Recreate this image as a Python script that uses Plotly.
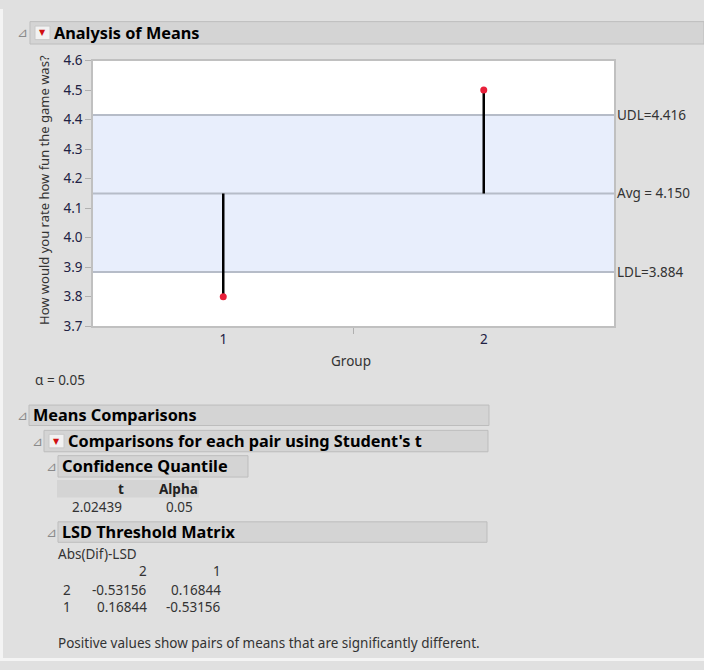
import plotly.graph_objects as go

# ---- data ----
groups = [1, 2]
group_labels = ["1", "2"]
group_means = [3.8, 4.5]
avg = 4.150
udl = 4.416
ldl = 3.884
y_ticks = [3.7, 3.8, 3.9, 4.0, 4.1, 4.2, 4.3, 4.4, 4.5, 4.6]
alpha = 0.05
t_quantile = "2.02439"
lsd_cols = ["2", "1"]
lsd_rows = ["2", "1"]
lsd_values = [["-0.53156", "0.16844"], ["0.16844", "-0.53156"]]

W, H = 704, 670
FONT = "Noto Sans"


def px(x):
    return x / W


def py(y):
    return 1 - y / H


fig = go.Figure()

# stems from average to group means
sx, sy = [], []
for g, m in zip(groups, group_means):
    sx += [g, g, None]
    sy += [avg, m, None]
fig.add_trace(go.Scatter(x=sx, y=sy, mode="lines",
                         line=dict(color="black", width=2.5),
                         hoverinfo="skip", showlegend=False))
fig.add_trace(go.Scatter(x=groups, y=group_means, mode="markers",
                         marker=dict(color="#e8203a", size=7),
                         showlegend=False))

shapes = []
# page edges
shapes.append(dict(type="rect", xref="paper", yref="paper", x0=0, x1=px(3), y0=0, y1=1,
                   fillcolor="#f4f4f4", line=dict(width=0), layer="below"))
shapes.append(dict(type="rect", xref="paper", yref="paper", x0=0, x1=1, y0=0, y1=py(667),
                   fillcolor="#f4f4f4", line=dict(width=0), layer="below"))
# decision band
shapes.append(dict(type="rect", xref="x domain", yref="y", x0=0, x1=1, y0=ldl, y1=udl,
                   fillcolor="#e8eefc", line=dict(width=0), layer="below"))
for v in [ldl, avg, udl]:
    shapes.append(dict(type="line", xref="x domain", yref="y", x0=0, x1=1, y0=v, y1=v,
                       line=dict(color="#b6bcc8", width=2), layer="below"))

SMALL = 13.5
annotations = []
for lab, v in [("UDL=%.3f" % udl, udl), ("Avg = %.3f" % avg, avg), ("LDL=%.3f" % ldl, ldl)]:
    annotations.append(dict(xref="paper", yref="y", x=px(615), y=v, text=lab,
                            xanchor="left", yanchor="middle", showarrow=False,
                            font=dict(family=FONT, size=SMALL, color="#333333")))


def header(x0, x1, y0, y1, text, tri_x, icon=None, text_x=None, size=16.3):
    shapes.append(dict(type="rect", xref="paper", yref="paper",
                       x0=px(x0), x1=px(x1), y0=py(y1), y1=py(y0),
                       fillcolor="#d4d4d4", line=dict(color="#bdbdbd", width=1)))
    yc = (y0 + y1) / 2
    annotations.append(dict(xref="paper", yref="paper", x=px(tri_x), y=py(yc), text="⊿",
                            xanchor="center", yanchor="middle", showarrow=False,
                            font=dict(family="DejaVu Sans", size=13, color="#8a8a8a")))
    if icon is not None:
        shapes.append(dict(type="rect", xref="paper", yref="paper",
                           x0=px(icon), x1=px(icon + 15), y0=py(yc + 7), y1=py(yc - 7),
                           fillcolor="#f2f2f2", line=dict(color="#c8c8c8", width=1)))
        annotations.append(dict(xref="paper", yref="paper", x=px(icon + 7.5), y=py(yc), text="▼",
                                xanchor="center", yanchor="middle", showarrow=False,
                                font=dict(family="DejaVu Sans", size=8, color="#d01010")))
    annotations.append(dict(xref="paper", yref="paper", x=px(text_x), y=py(yc), text="<b>%s</b>" % text,
                            xanchor="left", yanchor="middle", showarrow=False,
                            font=dict(family=FONT, size=size, color="#000000")))


header(30, 704, 13, 36, "Analysis of Means", 22, icon=35, text_x=52)
header(29, 489, 407, 428, "Means Comparisons", 22, text_x=31)
header(44, 488, 433, 455, "Comparisons for each pair using Student's t", 37, icon=49, text_x=66)
header(58, 248, 459, 481, "Confidence Quantile", 51, text_x=60)
header(58, 487, 527, 548, "LSD Threshold Matrix", 51, text_x=60)

# alpha note
annotations.append(dict(xref="paper", yref="paper", x=px(33), y=py(381), text="α = %.2f" % alpha,
                        xanchor="left", yanchor="middle", showarrow=False,
                        font=dict(family=FONT, size=SMALL, color="#333333")))

# confidence quantile table
shapes.append(dict(type="rect", xref="paper", yref="paper", x0=px(57), x1=px(199),
                   y0=py(502), y1=py(484), fillcolor="#d4d4d4", line=dict(width=0)))
small = dict(family=FONT, size=SMALL, color="#333333")
annotations += [
    dict(xref="paper", yref="paper", x=px(121), y=py(493), text="<b>t</b>", xanchor="center",
         yanchor="middle", showarrow=False, font=dict(family=FONT, size=SMALL, color="#222222")),
    dict(xref="paper", yref="paper", x=px(178), y=py(493), text="<b>Alpha</b>", xanchor="center",
         yanchor="middle", showarrow=False, font=dict(family=FONT, size=SMALL, color="#222222")),
    dict(xref="paper", yref="paper", x=px(124), y=py(512), text=t_quantile, xanchor="right",
         yanchor="middle", showarrow=False, font=small),
    dict(xref="paper", yref="paper", x=px(195), y=py(512), text="%.2f" % alpha, xanchor="right",
         yanchor="middle", showarrow=False, font=small),
    dict(xref="paper", yref="paper", x=px(56), y=py(560), text="Abs(Dif)-LSD", xanchor="left",
         yanchor="middle", showarrow=False, font=small),
    dict(xref="paper", yref="paper", x=px(56), y=py(652),
         text="Positive values show pairs of means that are significantly different.",
         xanchor="left", yanchor="middle", showarrow=False, font=small),
]
col_x = [149, 223]
for c, cx in zip(lsd_cols, col_x):
    annotations.append(dict(xref="paper", yref="paper", x=px(cx), y=py(578), text=c, xanchor="right",
                            yanchor="middle", showarrow=False, font=small))
row_y = [597, 615]
for r, ry, vals in zip(lsd_rows, row_y, lsd_values):
    annotations.append(dict(xref="paper", yref="paper", x=px(67), y=py(ry), text=r, xanchor="center",
                            yanchor="middle", showarrow=False, font=small))
    for v, cx in zip(vals, col_x):
        annotations.append(dict(xref="paper", yref="paper", x=px(cx), y=py(ry), text=v, xanchor="right",
                                yanchor="middle", showarrow=False, font=small))

# x axis title
annotations.append(dict(xref="paper", yref="paper", x=px(351), y=py(362), text="Group",
                        xanchor="center", yanchor="middle", showarrow=False,
                        font=dict(family=FONT, size=SMALL, color="#333333")))
# y axis title
annotations.append(dict(xref="paper", yref="paper", x=px(44), y=py(186),
                        text="How would you rate how fun the game was?", textangle=-90,
                        xanchor="center", yanchor="middle", showarrow=False,
                        font=dict(family=FONT, size=13, color="#333333")))

fig.update_layout(
    width=W, height=H,
    margin=dict(l=0, r=0, t=0, b=0),
    paper_bgcolor="#e0e0e0",
    plot_bgcolor="white",
    shapes=shapes,
    annotations=annotations,
    showlegend=False,
    xaxis=dict(domain=[px(93), px(614)], range=[0.5, 2.5], tickvals=groups, ticktext=group_labels,
               ticks="", showgrid=False, zeroline=False, showline=True, mirror=True,
               linecolor="#c0c0c0", linewidth=1.5,
               tickfont=dict(family=FONT, size=13.5, color="#222244"),
               minor=dict(tickvals=[1.5], ticks="outside", ticklen=6, tickcolor="#b0b0b0")),
    yaxis=dict(domain=[py(326), py(53)], range=[3.7, 4.6], tickvals=y_ticks,
               ticktext=["%.1f" % v for v in y_ticks],
               ticks="outside", ticklen=6, tickcolor="#b0b0b0", showgrid=False, zeroline=False,
               showline=True, mirror=True, linecolor="#c0c0c0", linewidth=1.5,
               tickfont=dict(family=FONT, size=13.5, color="#222244")),
)

post = (
    "var d=document.getElementById('{plot_id}');"
    "d.style.position='fixed';d.style.left='0px';d.style.top='0px';"
    "document.body.style.margin='0';"
    "document.documentElement.style.overflow='hidden';"
    "document.body.style.overflow='hidden';"
)
fig.write_html("out.html", config={"responsive": False, "displayModeBar": False},
               post_script=post)
